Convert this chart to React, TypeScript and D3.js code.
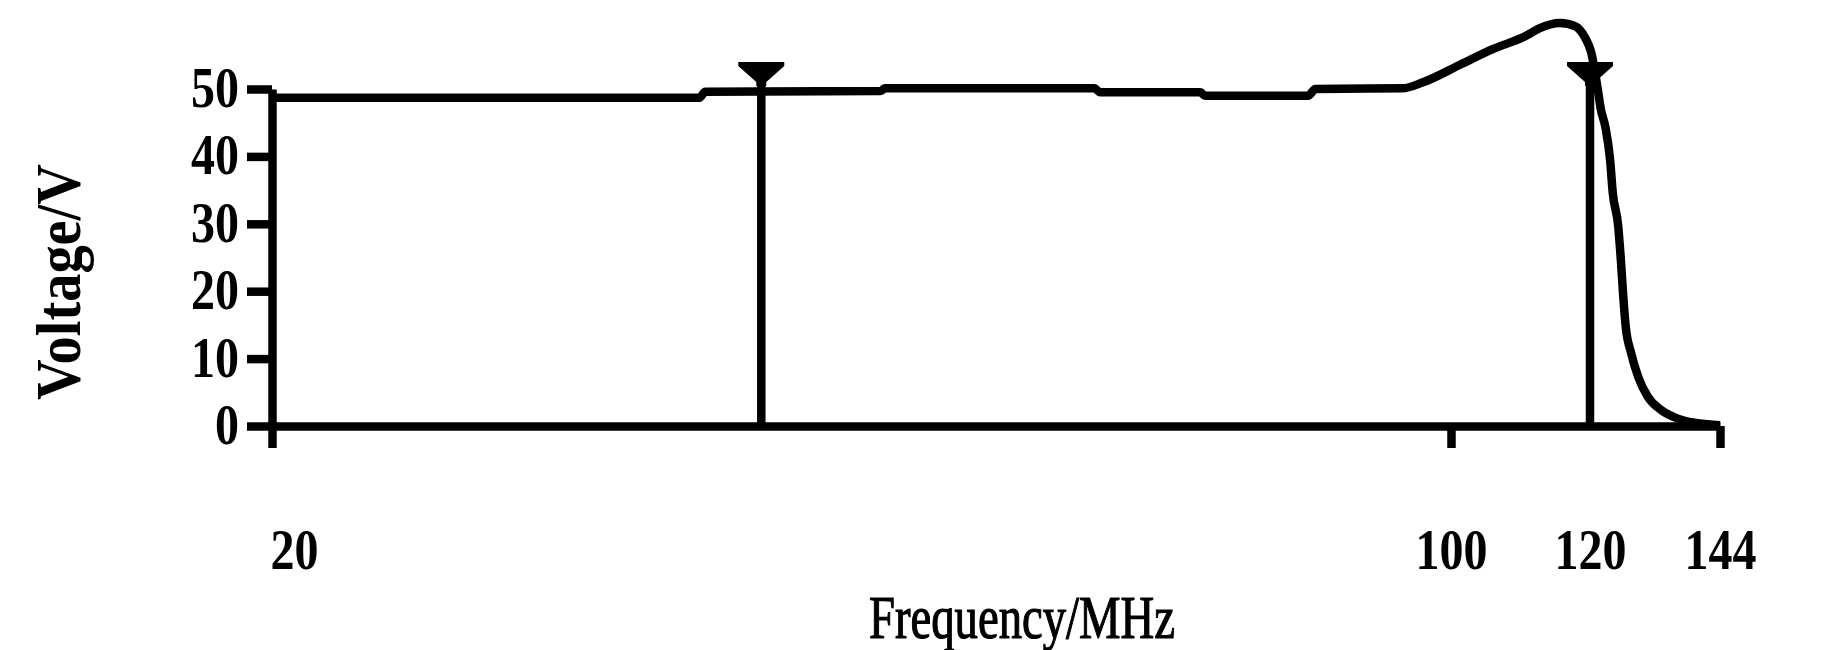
import React, { useEffect, useRef } from 'react';
import * as d3 from 'd3';

// trace: frequency (MHz) and voltage (V)
const freq = [20, 49.0, 49.4, 61.3, 61.6, 75.8, 76.2, 83.0, 83.3, 90.3, 90.8, 96.7, 98.1, 101.3, 106.0, 110.8, 112.7, 115.7, 117.9, 119.3, 120.2, 121.5, 122.0, 122.8, 123.7, 124.2, 125.2, 125.7, 126.1, 126.6, 127.6, 128.9, 130.7, 133.1, 136.2, 139.9, 144];
const volt = [48.7, 48.7, 49.6, 49.7, 50.1, 50.1, 49.5, 49.5, 49.0, 49.0, 50.0, 50.1, 51.0, 53.6, 55.9, 57.9, 59.0, 59.8, 59.3, 57.6, 55.5, 49.6, 47.0, 44.5, 39.6, 34.6, 29.7, 24.6, 19.7, 14.7, 10.8, 7.3, 4.3, 2.4, 1.1, 0.4, 0.1];

// marker positions (MHz)
const markerFreqs = [53.2, 120];
const markerTop = 54;

const yTicks = [0, 10, 20, 30, 40, 50];
const xLabels = [20, 100, 120, 144];
const xTickMarks = [20, 100, 144];

const W = 1835;
const H = 650;

const App = () => {
    const svgRef = useRef<SVGSVGElement>(null);

    useEffect(() => {
        document.body.style.margin = '0';
        const svg = d3.select(svgRef.current);
        svg.selectAll('*').remove();

        // the drawing's frequency axis is not to scale, so piecewise
        const x = d3.scaleLinear().domain(xLabels).range([272, 1451, 1590, 1720]);
        const y = d3.scaleLinear().domain([0, 50]).range([426, 89]);

        const font = '"Liberation Serif", "Times New Roman", serif';
        const sw = 8.5;

        // y axis
        const yAxis = svg.append('g')
            .attr('transform', `translate(${x(20)},0)`)
            .call(d3.axisLeft(y).tickValues(yTicks).tickSize(25).tickSizeOuter(0).tickPadding(8));

        // x axis
        const xAxis = svg.append('g')
            .attr('transform', `translate(0,${y(0)})`)
            .call(d3.axisBottom(x).tickValues(xLabels).tickSize(22).tickSizeOuter(0).tickPadding(20));

        xAxis.selectAll<SVGGElement, number>('.tick')
            .filter(d => !xTickMarks.includes(d))
            .select('line').remove();

        [yAxis, xAxis].forEach(g => {
            g.selectAll('path, line').attr('stroke', '#000').attr('stroke-width', sw);
            g.selectAll<SVGTextElement, number>('text')
                .attr('fill', '#000')
                .attr('font-family', font)
                .attr('font-size', 58)
                .attr('font-weight', 'bold')
                .attr('textLength', d => String(d).length * 24)
                .attr('lengthAdjust', 'spacingAndGlyphs');
        });
        yAxis.selectAll('text').attr('dy', '0.3em');

        xAxis.selectAll('text')
            .attr('y', 143)
            .attr('dy', 0)
            .attr('text-anchor', (d, i) => (i === 0 ? 'start' : 'middle'))
            .attr('dx', (d, i) => (i === 0 ? -2 : 0));

        // trace
        const line = d3.line<number>()
            .x((d, i) => x(freq[i]))
            .y(d => y(d))
            .curve(d3.curveMonotoneX);

        svg.append('path')
            .attr('d', line(volt))
            .attr('fill', 'none')
            .attr('stroke', '#000')
            .attr('stroke-width', sw)
            .attr('stroke-linejoin', 'round');

        // markers
        const mk = svg.append('g')
            .selectAll('g')
            .data(markerFreqs)
            .enter()
            .append('g')
            .attr('transform', d => `translate(${x(d)},${y(markerTop)})`);

        mk.append('line')
            .attr('x1', 0).attr('x2', 0)
            .attr('y1', 18).attr('y2', y(0) - y(markerTop))
            .attr('stroke', '#000')
            .attr('stroke-width', sw);

        mk.append('path')
            .attr('d', 'M-23,0H23V4L5,20V24H-5V20L-23,4Z')
            .attr('fill', '#000');

        // titles
        svg.append('text')
            .attr('transform', 'translate(80,282) rotate(-90)')
            .attr('text-anchor', 'middle')
            .attr('font-family', font)
            .attr('font-size', 64)
            .attr('font-weight', 'bold')
            .attr('textLength', 236)
            .attr('lengthAdjust', 'spacingAndGlyphs')
            .text('Voltage/V');

        svg.append('text')
            .attr('x', 1022)
            .attr('y', 638)
            .attr('text-anchor', 'middle')
            .attr('font-family', font)
            .attr('font-size', 62)
            .attr('stroke', '#000')
            .attr('stroke-width', 1.2)
            .attr('textLength', 306)
            .attr('lengthAdjust', 'spacingAndGlyphs')
            .text('Frequency/MHz');
    }, []);

    return <svg ref={svgRef} width={W} height={H} style={{ display: 'block', background: '#fff' }} />;
};

export default App;
